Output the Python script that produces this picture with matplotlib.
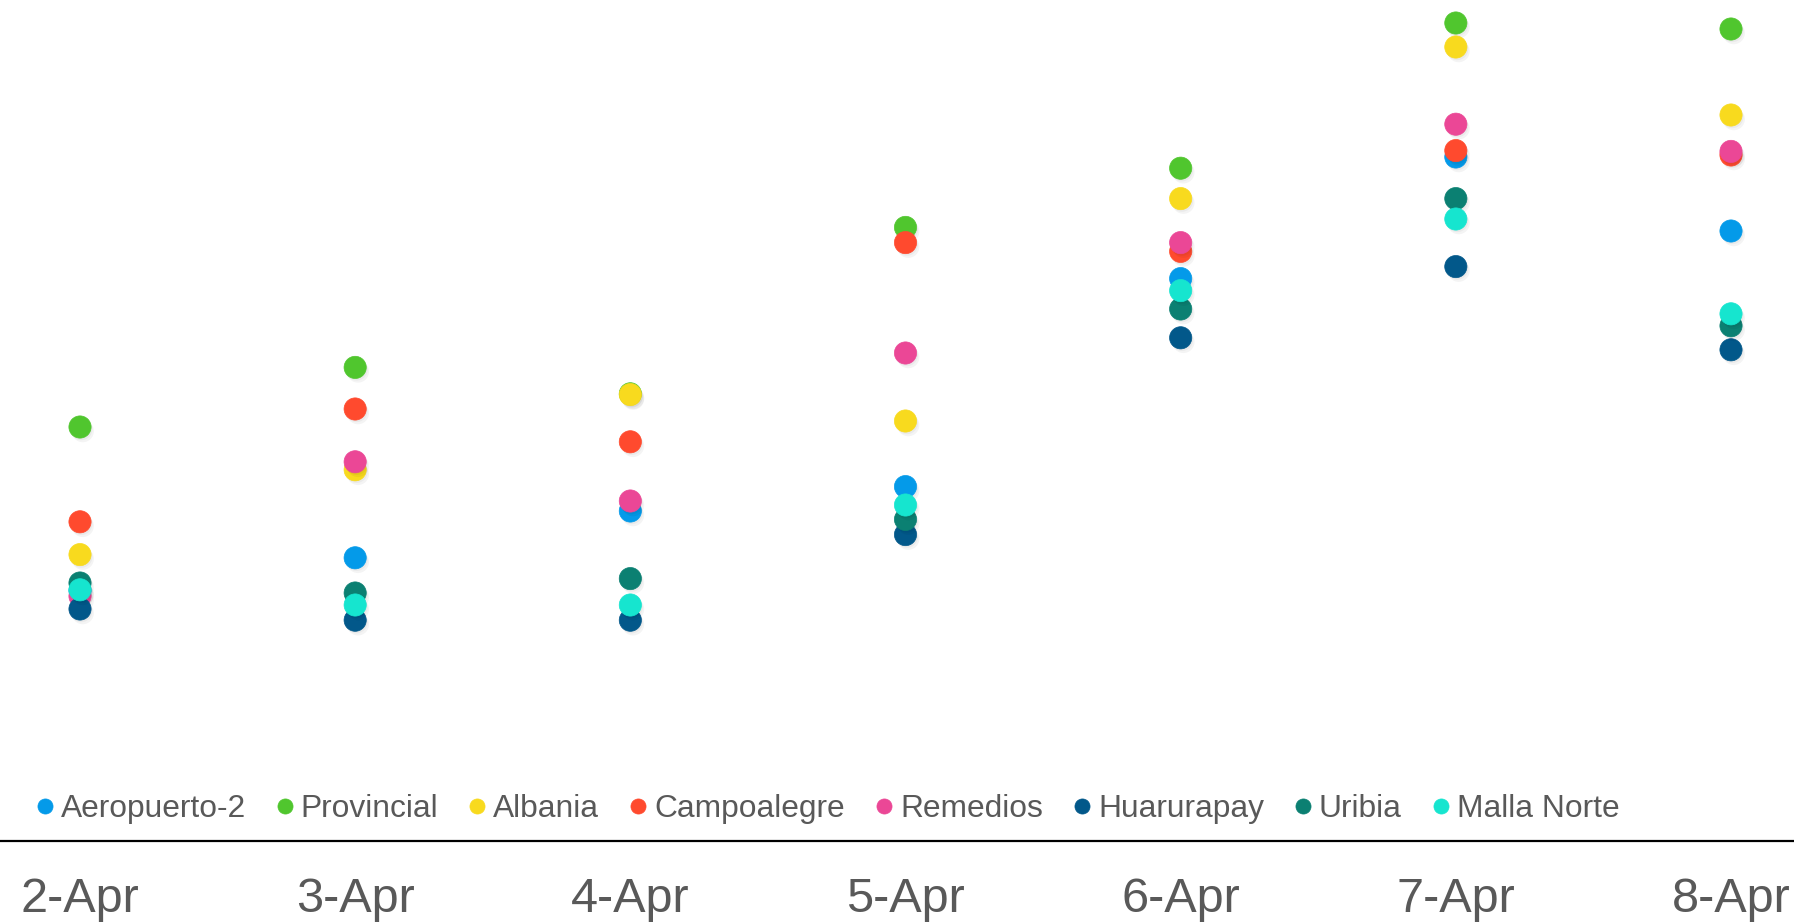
import matplotlib
matplotlib.use("Agg")
import matplotlib.pyplot as plt
import matplotlib.patheffects as pe

dates = ["2-Apr", "3-Apr", "4-Apr", "5-Apr", "6-Apr", "7-Apr", "8-Apr"]

aeropuerto = [31.3, 35.4, 41.25, 44.3, 70.3, 85.5, 76.25]
provincial = [51.75, 59.2, 55.9, 76.7, 84.1, 102.25, 101.5]
albania = [35.8, 46.4, 55.8, 52.5, 80.3, 99.25, 90.75]
campoalegre = [39.9, 54.0, 49.9, 74.8, 73.7, 86.3, 85.75]
remedios = [30.6, 47.4, 42.5, 61.0, 74.8, 89.6, 86.2]
huarurapay = [29.0, 27.6, 27.6, 38.3, 62.9, 71.8, 61.4]
uribia = [32.25, 31.0, 32.8, 40.2, 66.5, 80.3, 64.4]
malla_norte = [31.4, 29.5, 29.5, 42.0, 68.8, 77.75, 65.9]

series_names = ["Aeropuerto-2", "Provincial", "Albania", "Campoalegre",
                "Remedios", "Huarurapay", "Uribia", "Malla Norte"]
series_values = [aeropuerto, provincial, albania, campoalegre,
                 remedios, huarurapay, uribia, malla_norte]
colors = ["#049ae9", "#50c62e", "#f8da1e", "#ff4a2e",
          "#eb4796", "#02588a", "#0b8072", "#16e5cf"]

plt.rcParams['font.family'] = ['Liberation Sans', 'DejaVu Sans']

W, H = 1794, 922
fig = plt.figure(figsize=(W / 100, H / 100), dpi=100)
fig.patch.set_facecolor("white")

ax_bottom_px = 841
ax = fig.add_axes([0, 1 - ax_bottom_px / H, 1, ax_bottom_px / H])
ax.set_facecolor("none")

x = list(range(len(dates)))
unit = (1731 - 80) / 6.0
ax.set_xlim(-80 / unit, 6 + (W - 1731) / unit)
ax.set_ylim(0, 841 / 8.0)

shadow = [pe.SimplePatchShadow(offset=(2, -3), shadow_rgbFace="#000000", alpha=0.045),
          pe.SimplePatchShadow(offset=(1, -1.5), shadow_rgbFace="#000000", alpha=0.04),
          pe.Normal()]

for i, (name, vals, c) in enumerate(zip(series_names, series_values, colors)):
    ax.plot(x, vals, linestyle="none", marker="o", markersize=16,
            markerfacecolor=c, markeredgecolor=c, markeredgewidth=0.5,
            clip_on=False, zorder=3 + i, label=name, path_effects=shadow)

for s in ["top", "left", "right"]:
    ax.spines[s].set_visible(False)
ax.spines["bottom"].set_color("black")
ax.spines["bottom"].set_linewidth(1.6)
ax.set_yticks([])
ax.set_xticks(x)
ax.set_xticklabels(dates)
ax.tick_params(axis="x", length=0, pad=26, labelsize=35, labelcolor="#595959")

handles, labels = ax.get_legend_handles_labels()
leg = fig.legend(handles, labels, loc="center left",
                 bbox_to_anchor=(35 / W, 1 - 809 / H), ncol=8, frameon=False,
                 fontsize=22.9, handlelength=0.6, handletextpad=0.2,
                 columnspacing=0.93, borderpad=0, borderaxespad=0,
                 markerscale=0.68)
for t in leg.get_texts():
    t.set_color("#595959")
for h in leg.legend_handles:
    h.set_path_effects([])

fig.savefig("out.png", dpi=100, facecolor="white")
